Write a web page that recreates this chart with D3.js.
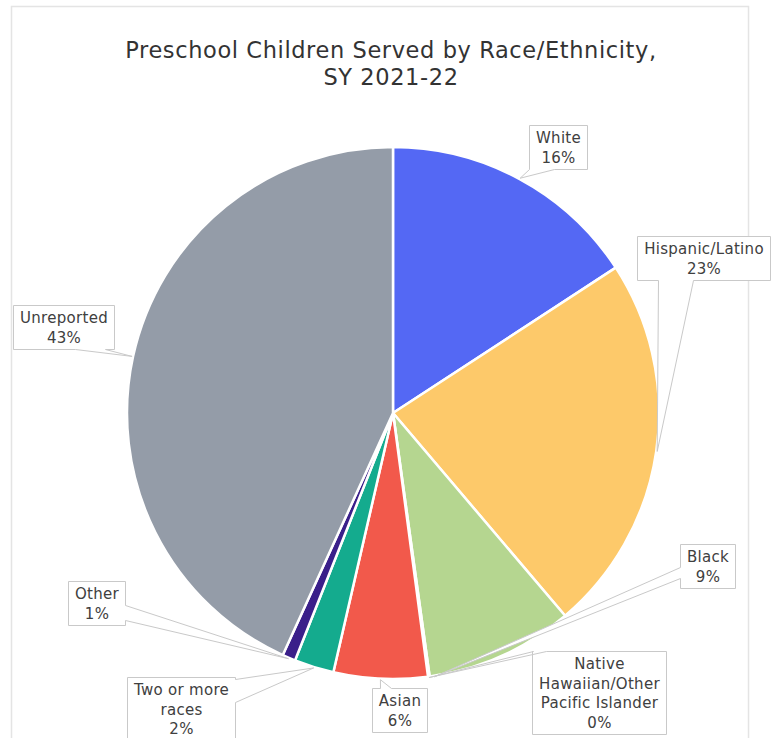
<!DOCTYPE html>
<html>
<head>
<meta charset="utf-8">
<script src="https://cdn.jsdelivr.net/npm/d3@7"></script>
<style>
  html, body { margin: 0; padding: 0; background: #fff; }
  svg { display: block; }
</style>
</head>
<body>
<svg id="chart" width="778" height="738"></svg>
<script>
// ---- Data ----
const titleLines = ["Preschool Children Served by Race/Ethnicity,", "SY 2021-22"];
const categories = ["White", "Hispanic/Latino", "Black", "Native Hawaiian/Other Pacific Islander", "Asian", "Two or more races", "Other", "Unreported"];
const shares = [15.8, 23.0, 9.0, 0.1, 5.7, 2.4, 0.8, 43.2];
const colors = ["#5468f4", "#fdc96a", "#b5d690", "#6a3d9a", "#f2594b", "#14ab8e", "#3a1f8a", "#949ca8"];
const labelLines = [["White"], ["Hispanic/Latino"], ["Black"], ["Native", "Hawaiian/Other", "Pacific Islander"], ["Asian"], ["Two or more", "races"], ["Other"], ["Unreported"]];

// ---- Layout (positions, not data) ----
const W = 778, H = 738;
const cx = 393, cy = 413, R = 266;
const font = "'DejaVu Sans', sans-serif";
const lineH = 19.5;
// box centre x, box top y, callout side, base offsets, tip fraction along slice
const placement = [
  {bx: 557.5, by: 125, side: "bottom", a: 0,  b: 25, frac: 0.5},
  {bx: 703.5, by: 236, side: "bottom", a: 21, b: 56, frac: 0.5},
  {bx: 707.5, by: 544, side: "left",   a: 23, b: 34, frac: 0.97},
  {bx: 599,   by: 651, side: "top",    a: 1,  b: 14, frac: 0.5},
  {bx: 399,   by: 688, side: "top",    a: 8,  b: 19, frac: 0.5},
  {bx: 181,   by: 677, side: "right",  a: 2,  b: 25, frac: 0.5},
  {bx: 96,    by: 581, side: "right",  a: 24, b: 39, frac: 0.5},
  {bx: 63.5,  by: 305, side: "bottom", a: 62, b: 92, frac: 0.5}
];

const svg = d3.select("#chart");

// frame
svg.append("rect").attr("x", 11.5).attr("y", 6.5).attr("width", 737).attr("height", 740)
  .attr("fill", "#fff").attr("stroke", "#e4e4e4").attr("stroke-width", 1.5);

// title
const title = svg.append("text").attr("text-anchor", "middle")
  .attr("font-family", font).attr("font-size", 22.5).attr("letter-spacing", 0.6).attr("fill", "#333");
titleLines.forEach((t, i) => {
  title.append("tspan").attr("x", 391).attr("y", 58 + i * 27).text(t);
});

// pie
const pie = d3.pie().sort(null).value(d => d).startAngle(0).endAngle(2 * Math.PI);
const arcs = pie(shares);
const arc = d3.arc().innerRadius(0).outerRadius(R);
const g = svg.append("g").attr("transform", `translate(${cx},${cy})`);
g.selectAll("path").data(arcs).join("path")
  .attr("d", arc)
  .attr("fill", (d, i) => colors[i])
  .attr("stroke", "#fff").attr("stroke-width", 2.5).attr("stroke-linejoin", "round");

// callouts
const fmt = v => Math.round(v) + "%";
function calloutPath(x, y, w, h, side, a, b, t) {
  let pts;
  if (side === "bottom") pts = [[x, y], [x + w, y], [x + w, y + h], [x + b, y + h], t, [x + a, y + h], [x, y + h]];
  else if (side === "top") pts = [[x, y], [x + a, y], t, [x + b, y], [x + w, y], [x + w, y + h], [x, y + h]];
  else if (side === "right") pts = [[x, y], [x + w, y], [x + w, y + a], t, [x + w, y + b], [x + w, y + h], [x, y + h]];
  else pts = [[x, y], [x + w, y], [x + w, y + h], [x, y + h], [x, y + b], t, [x, y + a]];
  return "M" + pts.map(p => p[0] + "," + p[1]).join("L") + "Z";
}

const lg = svg.append("g");
const fs = 15, ls = 0.3;
arcs.forEach((d, i) => {
  const p = placement[i];
  const lines = labelLines[i].concat([fmt(shares[i])]);
  const tmp = lg.append("text").attr("font-family", font).attr("font-size", fs).attr("letter-spacing", ls);
  let maxW = 0;
  lines.forEach(l => {
    const t = tmp.append("tspan").text(l);
    maxW = Math.max(maxW, t.node().getComputedTextLength());
  });
  tmp.remove();
  const w = Math.round(maxW + 13), h = Math.round(lines.length * lineH + 5);
  const x = Math.round(p.bx - w / 2) + 0.5, y = p.by + 0.5;
  const ang = d.startAngle + p.frac * (d.endAngle - d.startAngle);
  const tip = [cx + (R + 1) * Math.sin(ang), cy - (R + 1) * Math.cos(ang)];
  lg.append("path").attr("d", calloutPath(x, y, w, h, p.side, p.a, p.b, tip))
    .attr("fill", "#fff").attr("stroke", "#c9c9c9").attr("stroke-width", 1);
  const txt = lg.append("text").attr("text-anchor", "middle")
    .attr("font-family", font).attr("font-size", fs).attr("letter-spacing", ls).attr("fill", "#404040");
  lines.forEach((l, k) => {
    txt.append("tspan").attr("x", x + w / 2).attr("y", y + 17.5 + k * lineH).text(l);
  });
});
</script>
</body>
</html>
